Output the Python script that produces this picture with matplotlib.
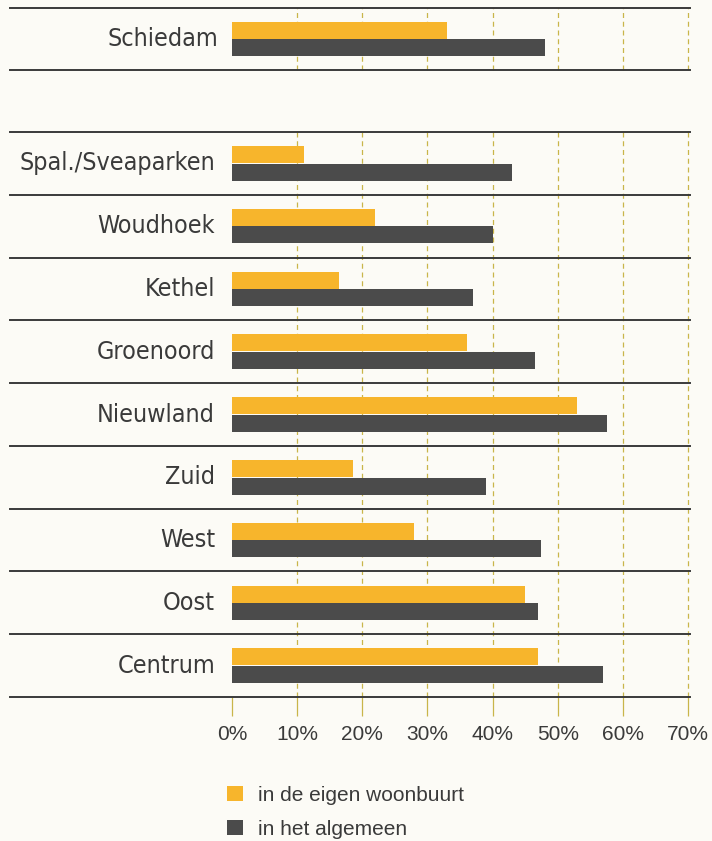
import matplotlib.pyplot as plt
import matplotlib.transforms as mtransforms
from matplotlib.patches import Patch
import numpy as np

plt.rcParams['font.family'] = ['DejaVu Sans']

# data (percentages)
top_label = "Schiedam"
top_eigen = 33
top_algemeen = 48

wijken = ["Spal./Sveaparken", "Woudhoek", "Kethel", "Groenoord", "Nieuwland",
          "Zuid", "West", "Oost", "Centrum"]
eigen = [11, 22, 16.5, 36, 53, 18.5, 28, 45, 47]
algemeen = [43, 40, 37, 46.5, 57.5, 39, 47.5, 47, 57]

ticks = [0, 10, 20, 30, 40, 50, 60, 70]
tick_labels = [f"{t}%" for t in ticks]
legend_labels = ["in de eigen woonbuurt", "in het algemeen"]

orange = "#f7b52c"
dark = "#4b4b4b"
grid_col = "#c9b54a"
line_col = "#3a3a3a"
txt_col = "#3a3a3a"
bg = "#fcfbf6"

W, H = 712, 841
fig = plt.figure(figsize=(W / 100, H / 100), dpi=100, facecolor=bg)

x0, x1 = 232 / W, 688 / W
ax_top = fig.add_axes([x0, 1 - 70 / H, x1 - x0, 62 / H])
ax = fig.add_axes([x0, 1 - 697 / H, x1 - x0, 565 / H])

bh = 0.27
off = 0.14
lab_kw = dict(ha="right", va="center", fontsize=18, color=txt_col,
              fontstretch="condensed", family="DejaVu Sans")


def style(a, n):
    a.set_facecolor("none")
    a.set_xlim(0, 70)
    a.set_ylim(n - 0.5, -0.5)
    for s in a.spines.values():
        s.set_visible(False)
    a.set_yticks([])
    for t in ticks[1:]:
        a.axvline(t, color=grid_col, lw=0.9, ls=(0, (4, 3)), zorder=0,
                  clip_on=False)
    # row separators running to the left edge
    tr = mtransforms.blended_transform_factory(fig.transFigure, a.transData)
    for yb in np.arange(-0.5, n, 1.0):
        a.plot([10 / W, 690 / W], [yb, yb], transform=tr, color=line_col,
               lw=1.4, clip_on=False, zorder=3)


# top panel: Schiedam
style(ax_top, 1)
ax_top.barh([0 - off], [top_eigen], height=bh, color=orange, zorder=2)
ax_top.barh([0 + off], [top_algemeen], height=bh, color=dark, zorder=2)
ax_top.set_xticks([])
ax_top.text(-2.1, 0, top_label, **lab_kw)

# main panel
style(ax, len(wijken))
y = np.arange(len(wijken))
ax.barh(y - off, eigen, height=bh, color=orange, zorder=2)
ax.barh(y + off, algemeen, height=bh, color=dark, zorder=2)
for yi, name in zip(y, wijken):
    ax.text(-2.6, yi, name, **lab_kw)

ax.set_xticks(ticks)
ax.set_xticklabels(tick_labels, fontsize=15, color=txt_col,
                   family=['Liberation Sans', 'DejaVu Sans'])
ax.tick_params(axis="x", length=14, width=0.9, color=grid_col, pad=6)
for tl in ax.xaxis.get_ticklines():
    tl.set_linestyle((0, (2, 2)))

handles = [Patch(facecolor=orange, edgecolor="none"),
           Patch(facecolor=dark, edgecolor="none")]
fig.legend(handles, legend_labels, loc="upper left",
           bbox_to_anchor=(227 / W, 1 - 786 / H), frameon=False,
           borderpad=0, borderaxespad=0,
           handlelength=0.75, handleheight=0.75, handletextpad=0.75,
           labelspacing=0.7, labelcolor=txt_col,
           prop={'family': ['Liberation Sans', 'DejaVu Sans'], 'size': 15})

fig.savefig("out.png", dpi=100, facecolor=bg)
